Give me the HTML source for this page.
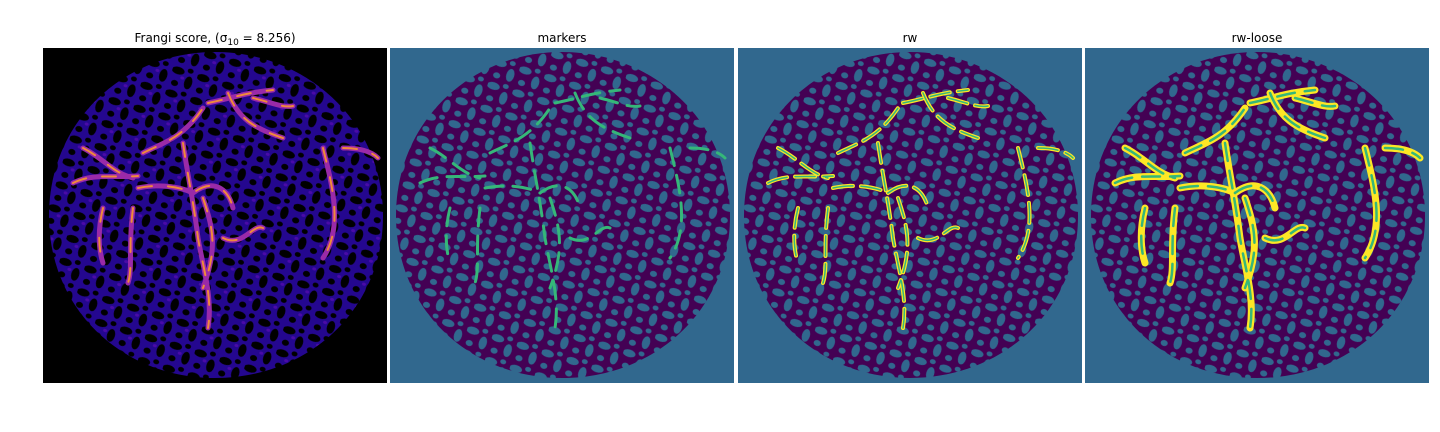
<!DOCTYPE html>
<html><head><meta charset="utf-8"><style>
html,body{margin:0;padding:0;background:#fff;}
svg{display:block;font-family:"DejaVu Sans","Liberation Sans",sans-serif;}
</style></head><body>
<svg width="1440" height="432" viewBox="0 0 1440 432">
<defs>
  <pattern id="p-holes" width="26" height="24" patternUnits="userSpaceOnUse" patternTransform="rotate(17)">
    <rect width="26" height="24" fill="#440154"/>
    <ellipse cx="6" cy="6" rx="6.5" ry="3.8" fill="#31688e"/>
    <ellipse cx="19" cy="15" rx="4" ry="6.5" fill="#31688e"/>
    <ellipse cx="18" cy="3" rx="3" ry="2.4" fill="#31688e"/>
    <ellipse cx="6" cy="19" rx="3.6" ry="3" fill="#31688e"/>
  </pattern>
  <pattern id="p-frangi" width="26" height="24" patternUnits="userSpaceOnUse" patternTransform="rotate(17)">
    <rect width="26" height="24" fill="#24078f"/>
    <ellipse cx="6" cy="6" rx="6.5" ry="3.8" fill="#000"/>
    <ellipse cx="19" cy="15" rx="4" ry="6.5" fill="#000"/>
    <ellipse cx="18" cy="3" rx="3" ry="2.4" fill="#000"/>
    <ellipse cx="6" cy="19" rx="3.6" ry="3" fill="#000"/>
    <ellipse cx="12" cy="12" rx="2" ry="1.5" fill="#4a0aa8"/>
  </pattern>
  <path id="blob" d="M172,4 C262,4 340,72 340,168 C340,262 265,330 172,330 C80,330 6,262 6,168 C6,72 82,4 172,4 Z"/>
  <g id="vessels" fill="none" stroke-linecap="round">
    <path d="M100,105 C120,95 140,90 160,60"/>
    <path d="M165,55 C190,50 200,45 230,42"/>
    <path d="M185,45 C195,70 210,80 240,90"/>
    <path d="M210,50 C230,55 240,60 250,58"/>
    <path d="M140,95 C145,130 150,150 155,190 C160,220 170,250 165,280"/>
    <path d="M40,100 C60,110 70,125 90,130"/>
    <path d="M30,135 C50,125 70,130 95,128"/>
    <path d="M95,140 C120,135 140,140 150,145 C170,130 185,140 190,160"/>
    <path d="M60,160 C55,180 55,200 60,215"/>
    <path d="M90,160 C85,200 90,220 85,235"/>
    <path d="M160,150 C170,180 175,200 160,240"/>
    <path d="M180,190 C200,200 210,175 220,180"/>
    <path d="M280,100 C290,140 300,180 280,210"/>
    <path d="M300,100 C320,100 330,105 335,110"/>
  </g>
</defs>

<g transform="translate(43,48)">
  <rect width="344" height="335" fill="#000"/>
  <use href="#blob" fill="url(#p-frangi)"/>
  <use href="#vessels" stroke="#9a2aa8" stroke-width="5"/>
  <use href="#vessels" stroke="#f08a3a" stroke-width="2" stroke-dasharray="14 16"/>
</g>
<text x="215" y="42" text-anchor="middle" font-size="12">Frangi score, (σ<tspan font-size="9" dy="3">10</tspan><tspan dy="-3"> = 8.256)</tspan></text>

<g transform="translate(390,48)">
  <rect width="344" height="335" fill="#31688e"/>
  <use href="#blob" fill="url(#p-holes)"/>
  <use href="#vessels" stroke="#35b779" stroke-width="3" stroke-dasharray="18 10"/>
</g>
<text x="562" y="42" text-anchor="middle" font-size="12">markers</text>

<g transform="translate(738,48)">
  <rect width="344" height="335" fill="#31688e"/>
  <use href="#blob" fill="url(#p-holes)"/>
  <use href="#vessels" stroke="#fde725" stroke-width="4" stroke-dasharray="20 8"/>
  <use href="#vessels" stroke="#35b779" stroke-width="1.5" stroke-dasharray="20 8"/>
</g>
<text x="910" y="42" text-anchor="middle" font-size="12">rw</text>

<g transform="translate(1085,48)">
  <rect width="344" height="335" fill="#31688e"/>
  <use href="#blob" fill="url(#p-holes)"/>
  <use href="#vessels" stroke="#fde725" stroke-width="7"/>
  <use href="#vessels" stroke="#35b779" stroke-width="2.5" stroke-dasharray="18 10"/>
</g>
<text x="1257" y="42" text-anchor="middle" font-size="12">rw-loose</text>
</svg>
</body></html>
